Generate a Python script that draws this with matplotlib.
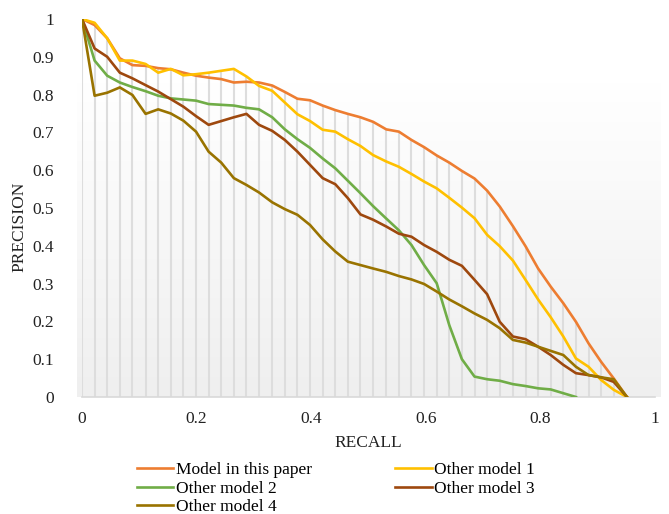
import numpy as np
import matplotlib
matplotlib.use('Agg')
import matplotlib.pyplot as plt
from matplotlib.ticker import FuncFormatter

recall = [0.000, 0.022, 0.044, 0.066, 0.088, 0.111, 0.133, 0.155, 0.177, 0.199,
          0.221, 0.243, 0.265, 0.287, 0.309, 0.332, 0.354, 0.376, 0.398, 0.420,
          0.442, 0.464, 0.486, 0.508, 0.531, 0.553, 0.575, 0.597, 0.619, 0.641,
          0.663, 0.685, 0.707, 0.729, 0.752, 0.774, 0.796, 0.818, 0.840, 0.862,
          0.884, 0.906, 0.928, 0.951]

model_paper = [1.000, 0.984, 0.949, 0.896, 0.878, 0.876, 0.870, 0.867, 0.858, 0.850,
               0.845, 0.841, 0.832, 0.834, 0.832, 0.824, 0.807, 0.789, 0.785, 0.771,
               0.759, 0.749, 0.740, 0.728, 0.708, 0.702, 0.680, 0.661, 0.639, 0.620,
               0.598, 0.578, 0.546, 0.504, 0.452, 0.399, 0.340, 0.292, 0.248, 0.199,
               0.142, 0.093, 0.049, 0.000]

other_1 = [1.000, 0.990, 0.949, 0.890, 0.890, 0.881, 0.858, 0.868, 0.851, 0.854,
           0.858, 0.863, 0.868, 0.848, 0.823, 0.810, 0.779, 0.748, 0.730, 0.707,
           0.702, 0.682, 0.664, 0.640, 0.623, 0.609, 0.590, 0.570, 0.552, 0.527,
           0.501, 0.473, 0.429, 0.399, 0.361, 0.310, 0.258, 0.211, 0.160, 0.102,
           0.080, 0.045, 0.019, 0.000]

# model 2 stops at recall ~0.86
other_2 = [1.000, 0.890, 0.850, 0.832, 0.820, 0.809, 0.797, 0.790, 0.787, 0.784,
           0.775, 0.773, 0.771, 0.765, 0.761, 0.740, 0.708, 0.682, 0.659, 0.631,
           0.605, 0.572, 0.539, 0.505, 0.472, 0.441, 0.402, 0.349, 0.301, 0.190,
           0.100, 0.054, 0.047, 0.043, 0.034, 0.029, 0.023, 0.020, 0.010, 0.000]

other_3 = [1.000, 0.922, 0.900, 0.858, 0.843, 0.825, 0.808, 0.788, 0.768, 0.743,
           0.720, 0.730, 0.740, 0.749, 0.720, 0.704, 0.680, 0.649, 0.614, 0.579,
           0.563, 0.526, 0.483, 0.469, 0.451, 0.432, 0.424, 0.402, 0.384, 0.363,
           0.347, 0.310, 0.272, 0.199, 0.160, 0.153, 0.133, 0.111, 0.085, 0.063,
           0.058, 0.052, 0.040, 0.000]

other_4 = [1.000, 0.797, 0.805, 0.819, 0.799, 0.749, 0.761, 0.750, 0.731, 0.702,
           0.649, 0.620, 0.579, 0.561, 0.541, 0.515, 0.497, 0.482, 0.455, 0.417,
           0.385, 0.358, 0.349, 0.340, 0.331, 0.320, 0.311, 0.299, 0.279, 0.258,
           0.240, 0.221, 0.204, 0.182, 0.151, 0.144, 0.133, 0.122, 0.111, 0.080,
           0.058, 0.052, 0.047, 0.000]

names = ['Model in this paper', 'Other model 1', 'Other model 2', 'Other model 3', 'Other model 4']
colors = ['#ED7D31', '#FFC000', '#70AD47', '#9E480E', '#997300']
series = [model_paper, other_1, other_2, other_3, other_4]

plt.rcParams['font.family'] = ['Liberation Serif', 'DejaVu Serif']
plt.rcParams['font.size'] = 12.5

fig = plt.figure(figsize=(6.69, 5.14), dpi=100)
ax = fig.add_axes([82/669, 1-397/514, 573/669, 378/514])

# plot area gradient (white at top, light grey at bottom)
grad = np.linspace(0, 1, 256).reshape(-1, 1)
ax.imshow(grad, cmap=matplotlib.colors.LinearSegmentedColormap.from_list('g', ['#efefef', '#ffffff']),
          extent=[-0.009, 1.009, 0, 0.831], origin='lower', aspect='auto', zorder=0, clip_on=False)

# drop lines from the top curve down to the axis
top = []
for i in range(len(recall)):
    top.append(max(s[i] for s in series if i < len(s)))
ax.vlines(recall, 0, top, colors='#dddddd', linewidth=1.5, zorder=1)

lines = []
for s, name, c in zip(series, names, colors):
    ln, = ax.plot(recall[:len(s)], s, color=c, linewidth=1.9, label=name, zorder=3)
    lines.append(ln)

ax.set_xlim(0, 1)
ax.set_ylim(0, 1)
ax.set_xticks(np.arange(0, 1.01, 0.2))
ax.set_yticks(np.arange(0, 1.01, 0.1))
fmt = FuncFormatter(lambda v, p: '%g' % round(v, 1))
ax.xaxis.set_major_formatter(fmt)
ax.yaxis.set_major_formatter(fmt)
ax.tick_params(axis='x', length=0, pad=10, colors='#222222')
ax.tick_params(axis='y', length=0, pad=20, colors='#222222')

for sp in ['top', 'right', 'left']:
    ax.spines[sp].set_visible(False)
ax.spines['bottom'].set_color('#d9d9d9')
ax.spines['bottom'].set_linewidth(1.2)

ax.set_xlabel('RECALL', color='#222222')
ax.set_ylabel('PRECISION', color='#222222')
ax.xaxis.set_label_coords(0.5, -0.101)
ax.yaxis.set_label_coords(-0.096, 0.45)

order = [0, 2, 4, 1, 3]
fig.legend([lines[i] for i in order], [names[i] for i in order], ncol=2,
           loc='upper left', bbox_to_anchor=(137/669, 1-462/514), frameon=False,
           handlelength=2.1, handletextpad=0.15, columnspacing=4.8,
           labelspacing=0.14, borderpad=0, borderaxespad=0)

fig.savefig('out.png', dpi=100)
